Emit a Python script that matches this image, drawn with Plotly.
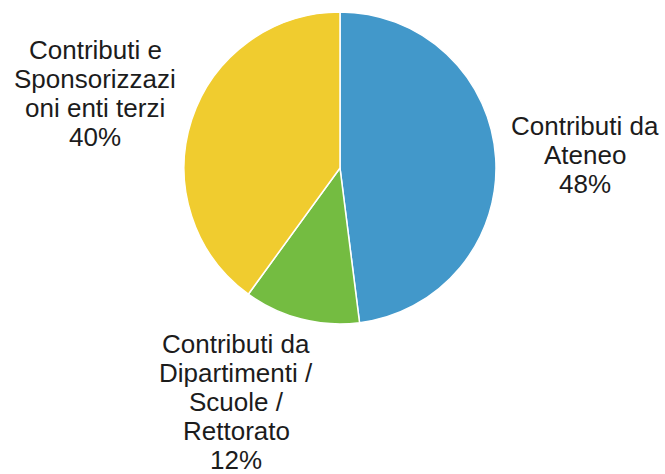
import plotly.graph_objects as go

labels = ["Contributi da Ateneo",
          "Contributi da Dipartimenti / Scuole / Rettorato",
          "Contributi e Sponsorizzazioni enti terzi"]
label_lines = [["Contributi da", "Ateneo"],
               ["Contributi da", "Dipartimenti /", "Scuole /", "Rettorato"],
               ["Contributi e", "Sponsorizzazi", "oni enti terzi"]]
values = [48, 12, 40]
colors = ["#4298CA", "#74BC41", "#F0CC2F"]

W, H = 665, 474
fig = go.Figure(go.Pie(
    labels=labels, values=values, sort=False, direction="clockwise", rotation=0,
    marker=dict(colors=colors, line=dict(color="white", width=1.5)),
    textinfo="none", hoverinfo="label+percent",
    domain=dict(x=[(340 - 156) / W, (340 + 156) / W],
                y=[1 - 324 / H, 1 - 12 / H]),
))

# label block positions (centre x, first line y) in pixels
label_pos = [(585, 126), (236, 344), (95, 50)]
line_gap = 28.9
total = sum(values)
annotations = []
for lines, v, (cx, y0) in zip(label_lines, values, label_pos):
    all_lines = lines + [f"{round(100 * v / total)}%"]
    for i, t in enumerate(all_lines):
        y = y0 + i * line_gap
        annotations.append(dict(
            text=t, x=cx / W, y=1 - y / H, xref="paper", yref="paper",
            xanchor="center", yanchor="middle", showarrow=False,
            font=dict(family="Liberation Sans, Arial, sans-serif", size=26, color="#1c1c1c"),
        ))

fig.update_layout(
    width=W, height=H, margin=dict(l=0, r=0, t=0, b=0),
    showlegend=False, paper_bgcolor="white", plot_bgcolor="white",
    annotations=annotations,
)
fig.write_html("out.html", config={"displayModeBar": False},
               post_script="document.body.style.margin='0';document.body.style.overflow='hidden';")
